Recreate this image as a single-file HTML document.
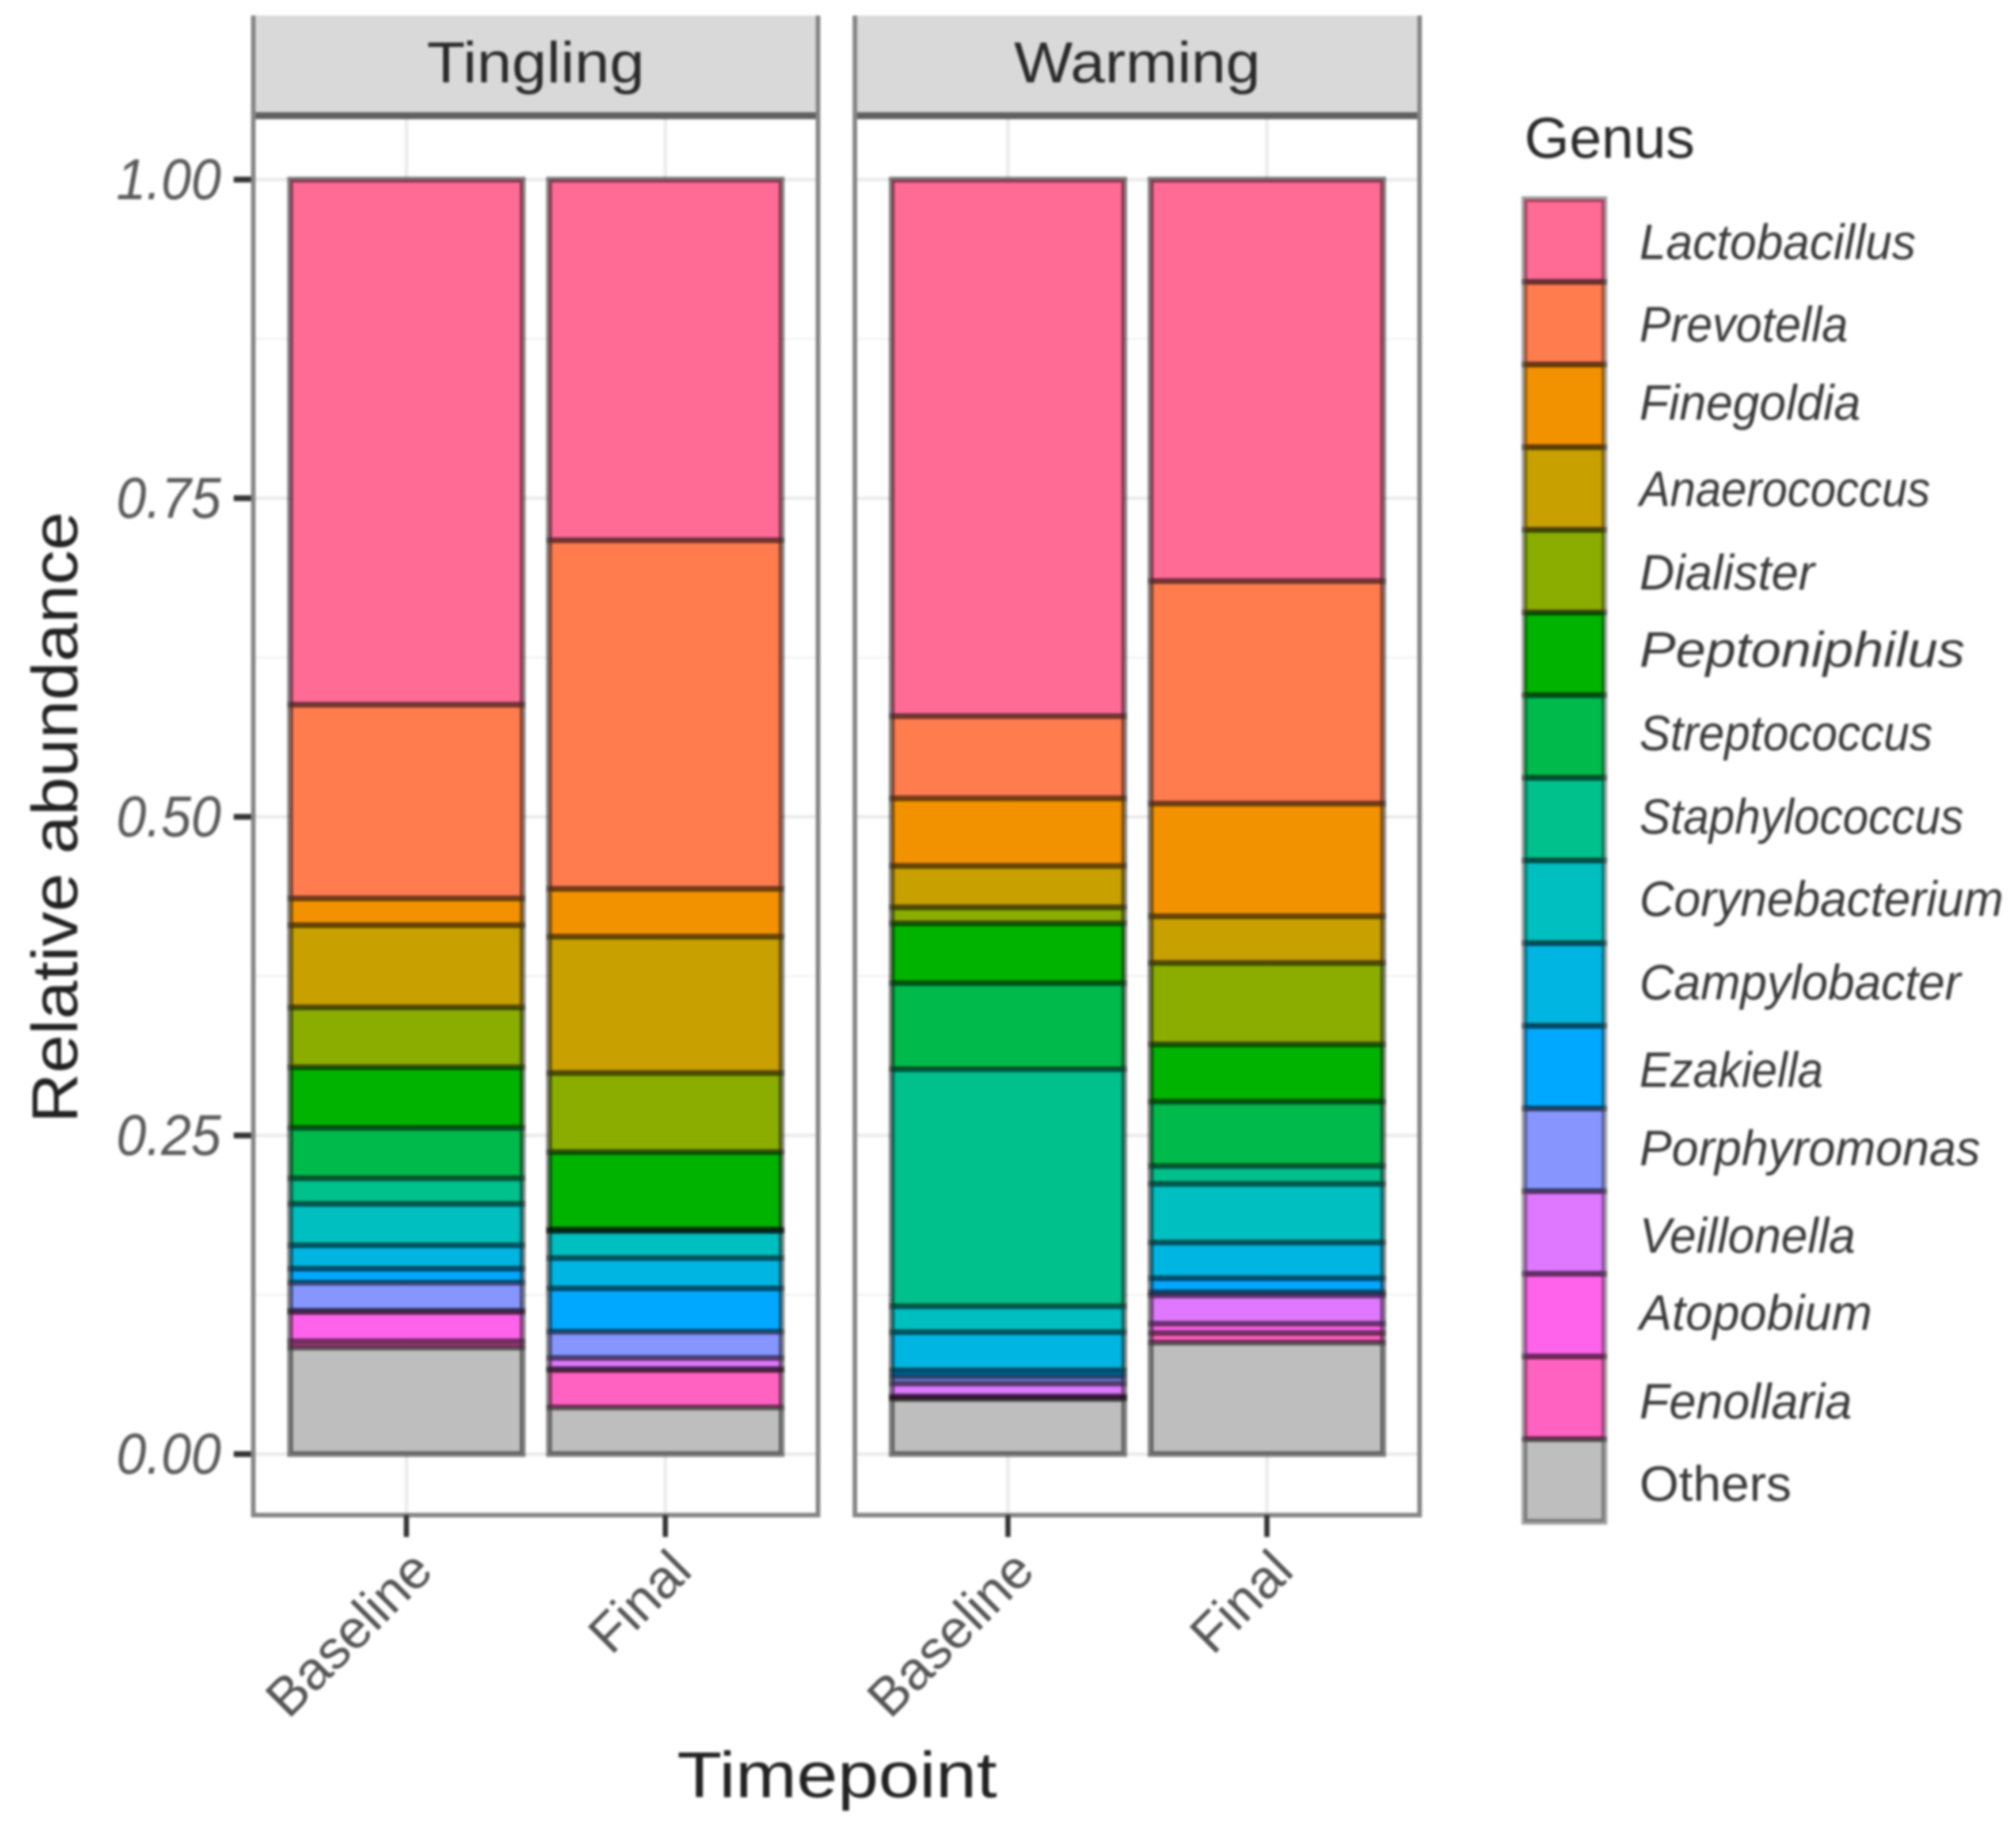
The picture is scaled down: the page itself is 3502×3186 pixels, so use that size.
<!DOCTYPE html>
<html lang="en">
<head>
<meta charset="utf-8">
<title>Relative abundance by genus</title>
<style>
html,body{margin:0;padding:0;background:#fff;width:3502px;height:3186px;overflow:hidden}
svg{display:block;filter:blur(2px)}
text{font-family:"Liberation Sans",sans-serif}
.leg{font-size:86px;font-style:italic;fill:#3a3a3a}
</style>
</head>
<body>
<svg id="chart" xmlns="http://www.w3.org/2000/svg" width="3502" height="3186" viewBox="0 0 3502 3186">
  <rect width="3502" height="3186" fill="#fff"/>
  <g id="panels"></g>

  <text transform="translate(134,1420) rotate(-90)" text-anchor="middle" font-size="112" fill="#222" textLength="1062" lengthAdjust="spacingAndGlyphs">Relative abundance</text>
  <text x="1454" y="3122" text-anchor="middle" font-size="112" fill="#222" textLength="556" lengthAdjust="spacingAndGlyphs">Timepoint</text>

  <g>
    <text x="2648" y="274" font-size="100" fill="#2a2a2a" textLength="296" lengthAdjust="spacingAndGlyphs">Genus</text>
    <g id="legend-keys"></g>
    <text class="leg" x="2848" y="450" textLength="480" lengthAdjust="spacingAndGlyphs">Lactobacillus</text>
    <text class="leg" x="2848" y="593" textLength="362" lengthAdjust="spacingAndGlyphs">Prevotella</text>
    <text class="leg" x="2848" y="729" textLength="384" lengthAdjust="spacingAndGlyphs">Finegoldia</text>
    <text class="leg" x="2848" y="879" textLength="505" lengthAdjust="spacingAndGlyphs">Anaerococcus</text>
    <text class="leg" x="2848" y="1024" textLength="304" lengthAdjust="spacingAndGlyphs">Dialister</text>
    <text class="leg" x="2848" y="1158" textLength="565" lengthAdjust="spacingAndGlyphs">Peptoniphilus</text>
    <text class="leg" x="2848" y="1303" textLength="509" lengthAdjust="spacingAndGlyphs">Streptococcus</text>
    <text class="leg" x="2848" y="1448" textLength="563" lengthAdjust="spacingAndGlyphs">Staphylococcus</text>
    <text class="leg" x="2848" y="1591" textLength="632" lengthAdjust="spacingAndGlyphs">Corynebacterium</text>
    <text class="leg" x="2848" y="1736" textLength="558" lengthAdjust="spacingAndGlyphs">Campylobacter</text>
    <text class="leg" x="2848" y="1888" textLength="319" lengthAdjust="spacingAndGlyphs">Ezakiella</text>
    <text class="leg" x="2848" y="2024" textLength="592" lengthAdjust="spacingAndGlyphs">Porphyromonas</text>
    <text class="leg" x="2848" y="2176" textLength="375" lengthAdjust="spacingAndGlyphs">Veillonella</text>
    <text class="leg" x="2848" y="2310" textLength="404" lengthAdjust="spacingAndGlyphs">Atopobium</text>
    <text class="leg" x="2848" y="2464" textLength="369" lengthAdjust="spacingAndGlyphs">Fenollaria</text>
    <text class="leg" style="font-style:normal" x="2848" y="2607" textLength="264" lengthAdjust="spacingAndGlyphs">Others</text>
  </g>
</svg>
<script>
const genera = ["Lactobacillus","Prevotella","Finegoldia","Anaerococcus","Dialister","Peptoniphilus","Streptococcus","Staphylococcus","Corynebacterium","Campylobacter","Ezakiella","Porphyromonas","Veillonella","Atopobium","Fenollaria","Others"];
const genusColors = ["#ff6b95","#ff7c4f","#f39200","#c8a000","#8aad00","#00b300","#00ba4c","#00c08c","#00bfc0","#00b5e2","#00a9ff","#8796ff","#df78ff","#ff63eb","#ff62c0","#bebebe"];
const facets = ["Tingling","Warming"];
const timepoints = ["Baseline","Final"];
const yTickValues = [0,0.25,0.5,0.75,1];
const yTickLabels = ["0.00","0.25","0.50","0.75","1.00"];
const tinglingBaseline = [0.412,0.152,0.021,0.0645,0.047,0.0475,0.0396,0.0201,0.0325,0.0183,0.011,0.022,0.001,0.023,0.0049,0.0836];
const tinglingFinal = [0.283,0.2735,0.0375,0.107,0.062,0.0607,0.0008,0.0005,0.0212,0.0238,0.034,0.0206,0.0087,0.0007,0.0294,0.0366];
const warmingBaseline = [0.421,0.0645,0.053,0.0325,0.0125,0.047,0.0675,0.186,0.0203,0.03,0.0049,0.0055,0.01,0.0008,0.0013,0.0432];
const warmingFinal = [0.315,0.1746,0.0884,0.0366,0.0639,0.045,0.0505,0.014,0.046,0.028,0.011,0.0025,0.0222,0.0073,0.0075,0.0875];

const NS = "http://www.w3.org/2000/svg";
const seriesByFacet = [[tinglingBaseline,tinglingFinal],[warmingBaseline,warmingFinal]];
const plotTop = 203, plotBottom = 2632, stripTop = 27;
const panelLeft = [440,1485], panelWidth = 981;

function yScale(v){ return 2526 - 2214 * v; }
function xBand(panel, index){ return panelLeft[panel] + panelWidth * (index * 0.4585 + 0.0652); }
const barWidth = 0.4118 * panelWidth;

function make(tag, attrs, parent){
  const el = document.createElementNS(NS, tag);
  for (const k in attrs) el.setAttribute(k, attrs[k]);
  parent.appendChild(el);
  return el;
}
function slug(s){ return s.toLowerCase().replace(/[^a-z0-9]+/g,"-"); }

const root = document.getElementById("panels");

facets.forEach(function(facet, p){
  const L = panelLeft[p], R = L + panelWidth;
  const g = make("g", {}, root);
  
  

  // gridlines
  [0.125,0.375,0.625,0.875].forEach(function(v){
    const l = make("line", {x1:L,x2:R,y1:yScale(v),y2:yScale(v),stroke:"#f1f1f1","stroke-width":3}, g);
    
    
  });
  yTickValues.forEach(function(v){
    const l = make("line", {x1:L,x2:R,y1:yScale(v),y2:yScale(v),stroke:"#ebebeb","stroke-width":6}, g);
    
    
  });
  timepoints.forEach(function(t, i){
    const cx = xBand(p, i) + barWidth / 2;
    const l = make("line", {x1:cx,x2:cx,y1:plotTop,y2:plotBottom,stroke:"#ebebeb","stroke-width":6}, g);
    
    
  });

  // bars: fills first, then outlines on top so adjoining strokes overlap
  timepoints.forEach(function(t, i){
    const series = seriesByFacet[p][i];
    const x = xBand(p, i);
    let cum = 1;
    const spans = series.map(function(v){ const top = cum; cum -= v; return [top, cum]; });
    spans.forEach(function(s, k){
      const r = make("rect", {x:x,width:barWidth,y:yScale(s[0]),height:Math.max(0,yScale(s[1])-yScale(s[0])),fill:genusColors[k]}, g);
      
      
    });
    spans.forEach(function(s, k){
      const r = make("rect", {x:x,width:barWidth,y:yScale(s[0]),height:Math.max(0,yScale(s[1])-yScale(s[0])),fill:"none",stroke:"#000","stroke-opacity":0.33,"stroke-width":10}, g);
      
      
    });
    const outer = make("rect", {x:x,width:barWidth,y:yScale(spans[0][0]),height:yScale(spans[spans.length-1][1])-yScale(spans[0][0]),fill:"none",stroke:"#000","stroke-opacity":0.22,"stroke-width":10}, g);
    
    
  });

  // strip
  const strip = make("rect", {x:L,y:stripTop,width:panelWidth,height:plotTop-stripTop-6,fill:"#d9d9d9"}, g);
  
  
  const sl = make("line", {x1:L-4,x2:R+4,y1:201,y2:201,stroke:"#5f5f5f","stroke-width":12}, g);
  
  

  // panel border: open at the top, the strip runs into the crop
  const frame = make("path", {d:"M"+L+" "+stripTop+"V"+plotBottom+"H"+R+"V"+stripTop,fill:"none",stroke:"#858585","stroke-width":8}, g);
  
  

  const st = make("text", {x:(L+R)/2,y:143,"text-anchor":"middle","font-size":100,fill:"#2a2a2a",textLength:p===0?378:428,lengthAdjust:"spacingAndGlyphs"}, g);
  st.textContent = facet;
  
  

  // x ticks + labels
  timepoints.forEach(function(t, i){
    const cx = xBand(p, i) + barWidth / 2;
    const tick = make("line", {x1:cx,x2:cx,y1:plotBottom,y2:2670,stroke:"#333","stroke-width":9}, g);
    
    
    const lab = make("text", {transform:"translate("+(cx+50)+",2733) rotate(-45)","text-anchor":"end","font-size":94,fill:"#555"}, g);
    lab.textContent = t;
    
    
  });
});

// y axis
yTickValues.forEach(function(v, i){
  const y = yScale(v);
  const t = make("line", {x1:406,x2:436,y1:y,y2:y,stroke:"#333","stroke-width":10}, root);
  
  
  const lab = make("text", {x:384,y:y+34,"text-anchor":"end","font-size":100,"font-style":"italic",fill:"#5a5a5a",textLength:182,lengthAdjust:"spacingAndGlyphs"}, root);
  lab.textContent = yTickLabels[i];
  
  
});

// legend keys
const keys = document.getElementById("legend-keys");
genera.forEach(function(name, i){
  const y = 346 + i * 143.6;
  const f = make("rect", {x:2648,y:y,width:139,height:143.6,fill:genusColors[i]}, keys);
  
  
});
genera.forEach(function(name, i){
  const y = 346 + i * 143.6;
  const o = make("rect", {x:2648,y:y,width:139,height:143.6,fill:"none",stroke:"#000","stroke-opacity":0.36,"stroke-width":10}, keys);
  
  
});
</script>
</body>
</html>
